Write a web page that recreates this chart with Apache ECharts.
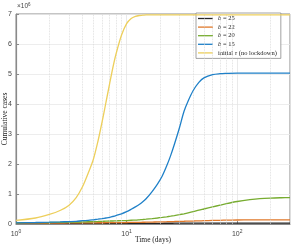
<!DOCTYPE html>
<html><head><meta charset="utf-8">
<script src="https://cdn.jsdelivr.net/npm/echarts@6/dist/echarts.min.js"></script>
<style>html,body{margin:0;padding:0;background:#fff}#c{width:291px;height:246px}</style>
</head><body><div id="c"></div>
<script>
// time axis (days)
var days = [1,1.5,2,2.5,3,3.5,4,4.5,5,5.5,6,6.5,7,7.5,8,9,10,11,12,13,14,15,17,19,21,23,25,27,30,33,36,40,45,50,60,70,80,100,130,160,200,250,300];
// cumulative cases, in units of 10^6
var b25 = [0.020,0.020,0.020,0.020,0.020,0.020,0.020,0.020,0.020,0.020,0.021,0.021,0.021,0.021,0.021,0.021,0.022,0.022,0.022,0.022,0.022,0.023,0.023,0.024,0.024,0.025,0.025,0.026,0.026,0.027,0.027,0.028,0.028,0.029,0.029,0.030,0.030,0.030,0.030,0.030,0.030,0.030,0.030];
var b22 = [0.030,0.030,0.032,0.033,0.035,0.036,0.037,0.038,0.040,0.041,0.042,0.043,0.044,0.045,0.046,0.048,0.050,0.052,0.054,0.056,0.058,0.060,0.064,0.068,0.072,0.076,0.080,0.083,0.088,0.092,0.096,0.100,0.105,0.110,0.118,0.124,0.128,0.133,0.137,0.139,0.140,0.140,0.140];
var b20 = [0.040,0.045,0.050,0.055,0.060,0.065,0.070,0.075,0.080,0.085,0.090,0.095,0.100,0.100,0.105,0.110,0.115,0.125,0.130,0.140,0.150,0.160,0.180,0.200,0.220,0.240,0.260,0.280,0.310,0.340,0.370,0.410,0.460,0.500,0.570,0.630,0.680,0.750,0.810,0.845,0.865,0.875,0.880];
var b15 = [0.04,0.05,0.06,0.07,0.08,0.09,0.11,0.12,0.14,0.16,0.18,0.20,0.22,0.25,0.28,0.34,0.41,0.49,0.57,0.65,0.74,0.84,1.08,1.33,1.60,1.93,2.28,2.65,3.20,3.75,4.10,4.45,4.72,4.87,4.98,5.01,5.02,5.03,5.03,5.03,5.03,5.03,5.03];
var noLockdown = [0.12,0.20,0.32,0.45,0.62,0.88,1.25,1.70,2.15,2.75,3.40,4.05,4.65,5.20,5.65,6.30,6.68,6.85,6.92,6.95,6.96,6.97,6.97,6.97,6.97,6.97,6.97,6.97,6.97,6.97,6.97,6.97,6.97,6.97,6.97,6.97,6.97,6.97,6.97,6.97,6.97,6.97,6.97];
var seriesNames = ['b = 25','b = 22','b = 20','b = 15','initial τ (no lockdown)'];
var seriesColors = ['#262626','#E0782A','#77AC30','#1F80C8','#EDCF5C'];
var yTicks = [0,1,2,3,4,5,6,7];
var minorGrid = [2,3,4,5,6,7,8,9,20,30,40,50,60,70,80,90,200];

var allData = [b25,b22,b20,b15,noLockdown];
function pairs(arr){ return days.map(function(d,i){ return [d, arr[i]]; }); }

var serif = 'Liberation Serif';
var sans = 'Liberation Sans';
var axisGray = '#8a8a8a';

var series = [{
  type:'line', name:'_grid', data:[], z:1, silent:true,
  markLine:{ silent:true, symbol:['none','none'], animation:false, label:{show:false},
    lineStyle:{type:'dotted', color:'#d8d8d8', width:0.8},
    data: minorGrid.map(function(v){ return {xAxis:v}; }) }
}];
allData.forEach(function(arr,i){
  series.push({ type:'line', name:seriesNames[i], data:pairs(arr), showSymbol:false, symbol:'none',
    smooth:0.3, z:2+i, lineStyle:{color:seriesColors[i], width:1.3}, itemStyle:{color:seriesColors[i]} });
});

var chart = echarts.init(document.getElementById('c'), null, {renderer:'canvas'});
chart.setOption({
  animation:false,
  grid:{left:16, right:1, top:14, bottom:22, show:true, borderColor:axisGray, borderWidth:1, outerBoundsMode:'none', containLabel:false},
  xAxis:{ type:'log', logBase:10, min:1, max:300,
    name:'Time (days)', nameLocation:'middle', nameGap:12, nameMoveOverlap:false,
    nameTextStyle:{fontFamily:serif, fontSize:7.5, color:'#222'},
    axisLine:{show:true, lineStyle:{color:axisGray, width:1.2}},
    axisTick:{show:true, inside:true, length:3, lineStyle:{color:axisGray}},
    splitLine:{show:true, lineStyle:{color:'#e4e4e4', width:0.8}},
    axisLabel:{ margin:5, showMaxLabel:false, color:'#444', fontFamily:sans, fontSize:7,
      formatter:function(v){ var e=Math.log10(v); if(Math.abs(e-Math.round(e))>1e-6) return ''; return '{b|10}{s|'+Math.round(e)+'}'; },
      rich:{ b:{fontFamily:sans, fontSize:7, color:'#444'}, s:{fontFamily:sans, fontSize:5, color:'#444', padding:[0,0,5,0]} } }
  },
  yAxis:{ type:'value', min:yTicks[0], max:yTicks[yTicks.length-1], interval:1,
    name:'Cumulative cases', nameLocation:'middle', nameGap:7, nameRotate:90, nameMoveOverlap:false,
    nameTextStyle:{fontFamily:serif, fontSize:7.5, color:'#222'},
    axisLine:{show:true, lineStyle:{color:axisGray, width:1.2}},
    axisTick:{show:true, inside:true, length:3, lineStyle:{color:axisGray}},
    splitLine:{show:true, lineStyle:{color:'#e8e8e8', width:0.8}},
    axisLabel:{margin:4, color:'#444', fontFamily:sans, fontSize:7}
  },
  graphic:[{ type:'text', left:17, top:2, silent:true,
    style:{ text:'{a|×10}{s|6}', rich:{ a:{fontFamily:sans, fontSize:6.5, fill:'#444'}, s:{fontFamily:sans, fontSize:4.5, fill:'#444', padding:[0,0,4,0]} } } }],
  legend:{ data:seriesNames, orient:'vertical', left:196, top:13, padding:[2,4,2,2], itemGap:1.6,
    icon:'rect', itemWidth:15, itemHeight:1.3, backgroundColor:'#fff', borderColor:'#8a8a8a', borderWidth:0.8,
    textStyle:{fontFamily:serif, fontSize:6.5, color:'#222', lineHeight:7,
      rich:{ i:{fontFamily:serif, fontStyle:'italic', fontSize:6.5, color:'#222'}, n:{fontFamily:serif, fontSize:6.5, color:'#222'} } },
    formatter:function(name){
      if(name.indexOf('b =')===0) return '{i|b}{n|'+name.slice(1)+'}';
      var k=name.indexOf('τ'); return '{n|'+name.slice(0,k)+'}{i|τ}{n|'+name.slice(k+1)+'}';
    }
  },
  series:series
});
</script></body></html>
